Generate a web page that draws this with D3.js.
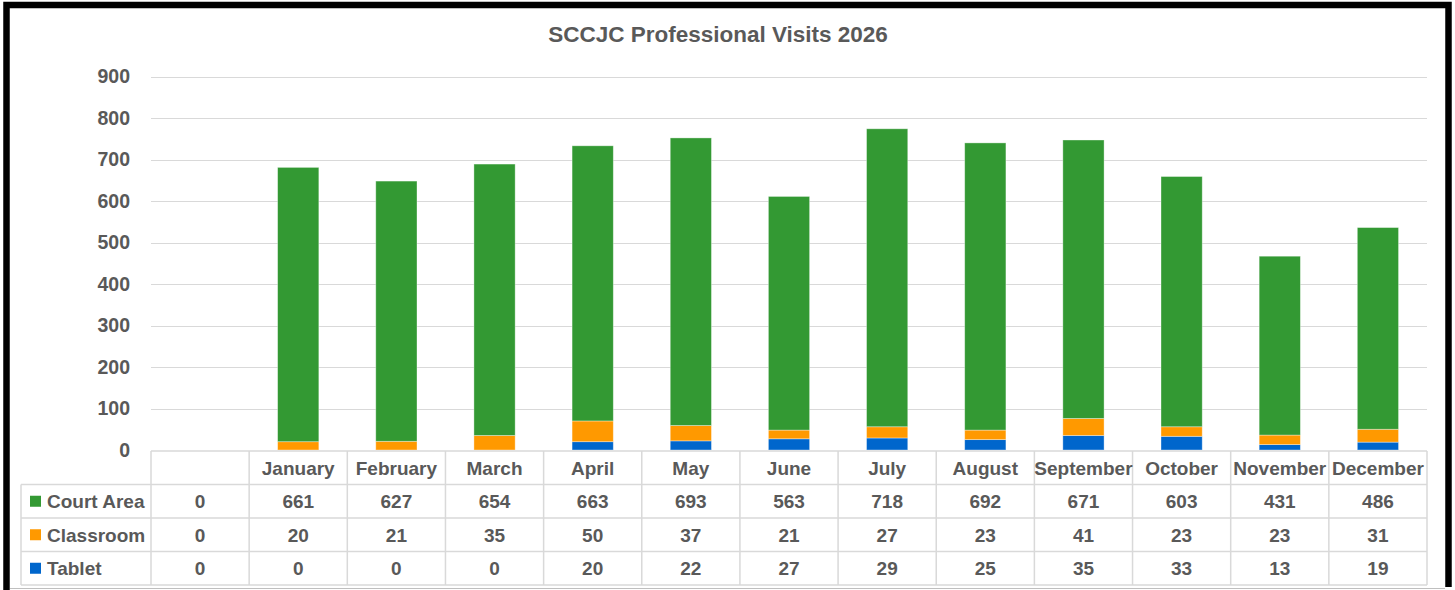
<!DOCTYPE html>
<html>
<head>
<meta charset="utf-8">
<script src="https://cdn.jsdelivr.net/npm/d3@7"></script>
<style>
  html, body { margin: 0; padding: 0; background: #fff; }
  svg text { font-family: "Liberation Sans", Arial, sans-serif; font-weight: bold; fill: #595959; }
</style>
</head>
<body>
<script>
// chart data
const months = ['', 'January', 'February', 'March', 'April', 'May', 'June', 'July',
    'August', 'September', 'October', 'November', 'December'];
const courtArea = [0, 661, 627, 654, 663, 693, 563, 718, 692, 671, 603, 431, 486];
const classroom = [0, 20, 21, 35, 50, 37, 21, 27, 23, 41, 23, 23, 31];
const tablet = [0, 0, 0, 0, 20, 22, 27, 29, 25, 35, 33, 13, 19];
const yTicks = [0, 100, 200, 300, 400, 500, 600, 700, 800, 900];

// stacked from bottom: Tablet, Classroom, Court Area
const series = [
    { name: 'Tablet', values: tablet, color: '#0066CC' },
    { name: 'Classroom', values: classroom, color: '#FF9900' },
    { name: 'Court Area', values: courtArea, color: '#339933' }
];
// table rows listed top to bottom
const tableRows = [series[2], series[1], series[0]];

const W = 1455, H = 590;
const plotLeft = 151, plotRight = 1427;
const plotTop = 76.5, plotBottom = 450;

const svg = d3.select('body').append('svg')
    .attr('width', W)
    .attr('height', H);

// frame
svg.append('rect').attr('x', 0).attr('y', 0).attr('width', W).attr('height', H).attr('fill', '#fff');
svg.append('path')
    .attr('d', `M6.5,${H} V5 H1448.5 V${H - 3}`)
    .attr('fill', 'none')
    .attr('stroke', '#000')
    .attr('stroke-width', 6.5);
svg.append('line')
    .attr('x1', 10).attr('x2', 1445)
    .attr('y1', 588.5).attr('y2', 588.5)
    .attr('stroke', '#bfbfbf').attr('stroke-width', 1);

const x = d3.scaleBand()
    .domain(d3.range(months.length))
    .range([plotLeft, plotRight])
    .paddingInner(0.58)
    .paddingOuter(0.29);

const y = d3.scaleLinear()
    .domain([0, 900])
    .range([plotBottom, plotTop]);

// title
svg.append('text')
    .attr('x', 718)
    .attr('y', 42)
    .attr('text-anchor', 'middle')
    .style('font-size', '22.5px')
    .text('SCCJC Professional Visits 2026');

// gridlines
svg.append('g')
    .selectAll('line')
    .data(yTicks.filter(d => d > 0))
    .join('line')
    .attr('x1', plotLeft).attr('x2', plotRight)
    .attr('y1', d => Math.round(y(d)) + 0.5)
    .attr('y2', d => Math.round(y(d)) + 0.5)
    .attr('stroke', '#d9d9d9')
    .attr('stroke-width', 1.2);

// y axis labels
const yAxis = svg.append('g')
    .attr('transform', `translate(${plotLeft},0)`)
    .call(d3.axisLeft(y).tickValues(yTicks).tickSize(0).tickPadding(21));
yAxis.select('.domain').remove();
yAxis.selectAll('text')
    .style('font-size', '19.5px')
    .attr('font-family', null);

// stacked bars
const stackData = months.map((m, i) => {
    const row = { i };
    series.forEach(s => { row[s.name] = s.values[i]; });
    return row;
});
const stack = d3.stack().keys(series.map(s => s.name))(stackData);

svg.append('g')
    .selectAll('g')
    .data(stack)
    .join('g')
    .attr('fill', (d, k) => series[k].color)
    .selectAll('rect')
    .data(d => d)
    .join('rect')
    .attr('x', d => x(d.data.i))
    .attr('width', x.bandwidth())
    .attr('y', d => y(d[1]))
    .attr('height', d => y(d[0]) - y(d[1]))
    .attr('stroke', 'rgba(255,255,255,0.45)')
    .attr('stroke-width', 0.8);

// data table
const rowH = [451, 484.5, 518, 551.5, 585];
const tableLeft = 21;
const colEdges = d3.range(months.length + 1).map(i => plotLeft + i * x.step());
const table = svg.append('g')
    .attr('stroke', '#d9d9d9')
    .attr('stroke-width', 1.5)
    .attr('fill', 'none');

// horizontal lines
rowH.forEach((yy, r) => {
    table.append('line')
        .attr('x1', r === 0 ? plotLeft : tableLeft)
        .attr('x2', plotRight)
        .attr('y1', yy).attr('y2', yy);
});
// vertical lines
table.append('line')
    .attr('x1', tableLeft).attr('x2', tableLeft)
    .attr('y1', rowH[1]).attr('y2', rowH[4]);
colEdges.forEach(cx => {
    table.append('line')
        .attr('x1', cx).attr('x2', cx)
        .attr('y1', rowH[0]).attr('y2', rowH[4]);
});

// header labels
svg.append('g')
    .selectAll('text')
    .data(months)
    .join('text')
    .attr('x', (d, i) => x(i) + x.bandwidth() / 2)
    .attr('y', (rowH[0] + rowH[1]) / 2 + 7)
    .attr('text-anchor', 'middle')
    .style('font-size', '19px')
    .text(d => d);

// series rows
tableRows.forEach((s, r) => {
    const yc = (rowH[r + 1] + rowH[r + 2]) / 2;
    svg.append('rect')
        .attr('x', 30).attr('y', yc - 5.5)
        .attr('width', 11).attr('height', 11)
        .attr('fill', s.color);
    svg.append('text')
        .attr('x', 47)
        .attr('y', yc + 7)
        .style('font-size', '19px')
        .text(s.name);
    svg.append('g')
        .selectAll('text')
        .data(s.values)
        .join('text')
        .attr('x', (d, i) => x(i) + x.bandwidth() / 2)
        .attr('y', yc + 7)
        .attr('text-anchor', 'middle')
        .style('font-size', '19px')
        .text(d => d);
});
</script>
</body>
</html>
